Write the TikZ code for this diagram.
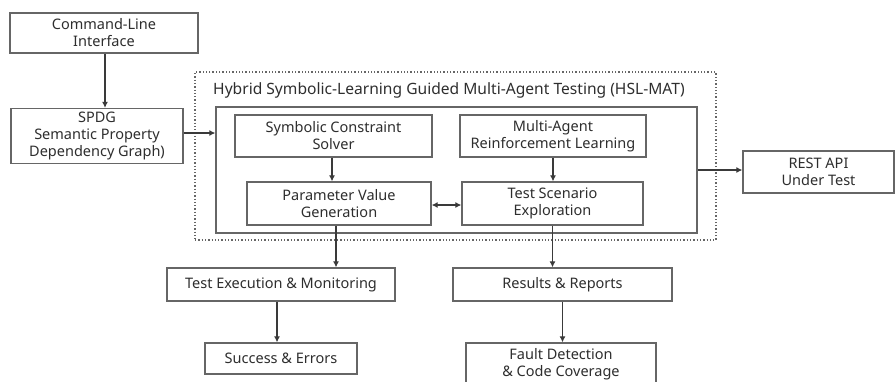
\documentclass[tikz,border=0pt]{standalone}
\usepackage{fontspec}
\setmainfont{Noto Sans}
\usetikzlibrary{arrows.meta,calc}
\definecolor{boxline}{HTML}{666666}
\definecolor{txt}{HTML}{2E2E2E}
\definecolor{arr}{HTML}{3A3A3A}
\tikzset{
  box/.style={draw=boxline, line width=1.3pt, fill=white, align=center, text=txt, font=\fontsize{14.5}{17}\selectfont, inner sep=0pt},
  boldbox/.style={box, font=\fontsize{14.5}{17}\selectfont\bfseries},
  conn/.style={draw=arr, line width=1.1pt, -{Latex[length=6pt,width=6pt]}},
  dconn/.style={draw=arr, line width=1.1pt, {Latex[length=6pt,width=6pt]}-{Latex[length=6pt,width=6pt]}},
}
\begin{document}
\begin{tikzpicture}[x=1pt,y=-1pt]
\useasboundingbox (0,0) rectangle (896,381);
% outer dotted frame
\node[draw=boxline, line width=1.3pt, dotted, minimum width=521pt, minimum height=168pt, inner sep=0pt] (outer) at (455.5,156) {};
\node[anchor=west, text=txt, font=\fontsize{15.6}{18}\selectfont, inner sep=0pt] (title) at (213,90) {Hybrid Symbolic-Learning Guided Multi-Agent Testing (HSL-MAT)};
\node[box, minimum width=481pt, minimum height=126pt] (inner) at (456.5,170) {};

\node[box, minimum width=188pt, minimum height=40pt] (cli) at (104,33) {Command-Line\\Interface};
\node[box, minimum width=172pt, minimum height=55pt] (spdg) at (97,136) {SPDG\\Semantic Property\\Dependency Graph)};

\node[box, minimum width=197pt, minimum height=42pt] (scs) at (333.5,136) {Symbolic Constraint\\Solver};
\node[box, minimum width=186pt, minimum height=42pt] (marl) at (553,136) {Multi-Agent\\Reinforcement Learning};
\node[box, minimum width=184pt, minimum height=43pt] (pvg) at (339,203.5) {Parameter Value\\Generation};
\node[box, minimum width=181pt, minimum height=43pt] (tse) at (552.5,203.5) {Test Scenario\\Exploration};

\node[boldbox, minimum width=151pt, minimum height=42pt] (rest) at (818.5,172) {REST API\\Under Test};

\node[box, minimum width=228pt, minimum height=33pt] (tem) at (281,284.5) {Test Execution \& Monitoring};
\node[box, minimum width=219pt, minimum height=33pt] (rr) at (562.5,284.5) {Results \& Reports};
\node[box, minimum width=152pt, minimum height=31pt] (se) at (281,358.5) {Success \& Errors};
\node[box, minimum width=190pt, minimum height=56pt] (fd) at (561,371) {};
\node[text=txt, font=\fontsize{14.5}{17}\selectfont\bfseries, align=center, inner sep=0pt] (fdt) at (561,364) {Fault Detection\\\& Code Coverage};

\draw[conn] ([xshift=1pt]cli.south) -- ([xshift=1pt]cli.south |- spdg.north);
\draw[conn] ([yshift=3pt]spdg.east) -- ([yshift=3pt]spdg.east -| inner.west);
\draw[conn] ([xshift=-1.5pt]scs.south) -- ([xshift=-1.5pt]scs.south |- pvg.north);
\draw[conn] (marl.south) -- (marl.south |- tse.north);
\draw[dconn] ([yshift=-1.5pt]pvg.east) -- ([yshift=-1.5pt]pvg.east -| tse.west);
\draw[conn] (inner.east) -- (inner.east -| rest.west);
\draw[conn] ([xshift=-3pt]pvg.south) -- ([xshift=-3pt]pvg.south |- tem.north);
\draw[conn] (tse.south) -- (tse.south |- rr.north);
\draw[conn] ([xshift=-4pt]tem.south) -- ([xshift=-4pt]tem.south |- se.north);
\draw[conn] (rr.south) -- (rr.south |- fd.north);
\end{tikzpicture}
\end{document}
